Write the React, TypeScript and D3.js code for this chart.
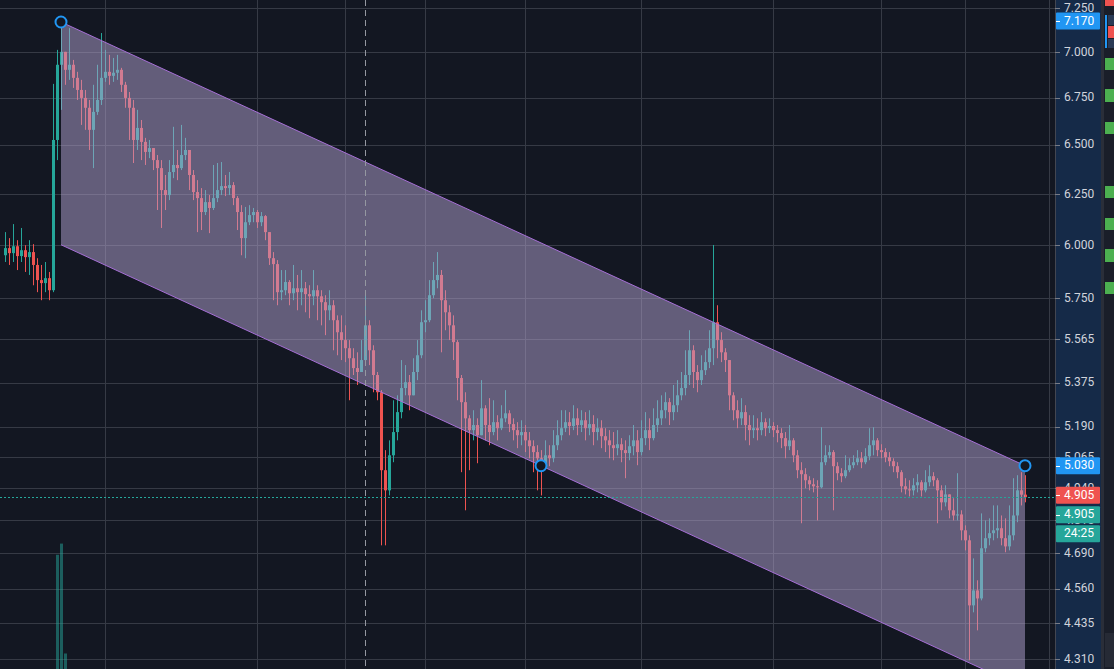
import React from "react";
import * as d3 from "d3";

const W = 1114;
const H = 669;
const PLOT_R = 1055;
const AXIS_R = 1101;

const firstOpen = 5.951;
const closes = [
  5.985, 5.961, 5.994, 5.947, 5.975, 5.942, 5.966, 5.905, 5.834, 5.82,
  5.843, 5.787, 6.525, 6.929, 7.001, 6.901, 6.929, 6.857, 6.791, 6.748,
  6.695, 6.578, 6.673, 6.737, 6.857, 6.89, 6.868, 6.885, 6.901, 6.819,
  6.748, 6.695, 6.525, 6.588, 6.515, 6.463, 6.483, 6.421, 6.38, 6.269,
  6.244, 6.36, 6.396, 6.38, 6.447, 6.473, 6.345, 6.259, 6.229, 6.16,
  6.209, 6.18, 6.229, 6.269, 6.289, 6.279, 6.294, 6.229, 6.16, 6.033,
  6.11, 6.145, 6.16, 6.11, 6.14, 6.062, 5.937, 5.909, 5.778, 5.787,
  5.825, 5.773, 5.796, 5.778, 5.796, 5.769, 5.759, 5.787, 5.759, 5.732,
  5.695, 5.718, 5.65, 5.596, 5.561, 5.525, 5.481, 5.438, 5.421, 5.473,
  5.627, 5.516, 5.408, 5.334, 5.012, 4.932, 5.072, 5.167, 5.25, 5.352,
  5.377, 5.321, 5.421, 5.494, 5.641, 5.65, 5.764, 5.834, 5.858, 5.741,
  5.686, 5.627, 5.552, 5.395, 5.292, 5.224, 5.175, 5.196, 5.154, 5.266,
  5.196, 5.167, 5.208, 5.183, 5.224, 5.245, 5.2, 5.175, 5.154, 5.167,
  5.133, 5.109, 5.085, 5.06, 5.036, 5.072, 5.06, 5.113, 5.154, 5.183,
  5.208, 5.192, 5.224, 5.196, 5.216, 5.183, 5.2, 5.167, 5.183, 5.15,
  5.133, 5.113, 5.101, 5.117, 5.093, 5.081, 5.109, 5.133, 5.085, 5.142,
  5.175, 5.142, 5.196, 5.224, 5.258, 5.292, 5.25, 5.279, 5.321, 5.352,
  5.408, 5.516, 5.421, 5.386, 5.429, 5.464, 5.525, 5.641, 5.561, 5.507,
  5.473, 5.321, 5.258, 5.224, 5.25, 5.196, 5.175, 5.183, 5.175, 5.208,
  5.183, 5.192, 5.175, 5.163, 5.142, 5.109, 5.133, 5.072, 5.012, 4.996,
  4.972, 4.956, 4.948, 4.944, 5.044, 5.072, 5.085, 5.028, 5.0, 4.988,
  5.012, 5.032, 5.044, 5.06, 5.044, 5.068, 5.113, 5.133, 5.093, 5.085,
  5.064, 5.048, 5.028, 5.004, 4.948, 4.936, 4.932, 4.952, 4.964, 4.932,
  4.964, 4.988, 4.972, 4.932, 4.885, 4.916, 4.854, 4.834, 4.838, 4.777,
  4.739, 4.499, 4.553, 4.524, 4.709, 4.747, 4.766, 4.777, 4.785, 4.747,
  4.716, 4.758, 4.834, 4.932, 4.915, 4.905,
];
const highs = [
  6.062, 6.033, 6.101, 6.023, 6.082, 5.999, 6.023, 6.004, 5.937, 5.905,
  5.919, 5.872, 6.824, 7.012, 7.17, 6.984, 7.135, 6.956, 6.89, 6.846,
  6.791, 6.737, 6.819, 6.929, 7.107, 7.012, 6.984, 6.967, 6.984, 6.912,
  6.835, 6.78, 6.737, 6.684, 6.63, 6.536, 6.525, 6.473, 6.447, 6.421,
  6.345, 6.421, 6.594, 6.473, 6.604, 6.536, 6.473, 6.37, 6.319, 6.279,
  6.269, 6.244, 6.396, 6.406, 6.411, 6.345, 6.36, 6.309, 6.239, 6.194,
  6.185, 6.194, 6.18, 6.17, 6.16, 6.145, 6.047, 5.966, 5.928, 5.881,
  5.881, 5.834, 5.905, 5.858, 5.881, 5.825, 5.81, 5.881, 5.81, 5.787,
  5.764, 5.787, 5.741, 5.672, 5.672, 5.627, 5.561, 5.525, 5.507, 5.561,
  5.787, 5.65, 5.538, 5.421, 5.343, 5.093, 5.133, 5.3, 5.321, 5.473,
  5.451, 5.408, 5.481, 5.561, 5.695, 5.741, 5.834, 5.919, 5.966, 5.881,
  5.787, 5.718, 5.672, 5.561, 5.408, 5.334, 5.237, 5.258, 5.224, 5.386,
  5.279, 5.309, 5.3, 5.237, 5.279, 5.343, 5.258, 5.224, 5.208, 5.216,
  5.196, 5.167, 5.133, 5.113, 5.093, 5.133, 5.113, 5.175, 5.216, 5.258,
  5.258, 5.25, 5.279, 5.266, 5.258, 5.25, 5.258, 5.237, 5.224, 5.216,
  5.183, 5.175, 5.167, 5.175, 5.142, 5.133, 5.154, 5.196, 5.175, 5.216,
  5.25, 5.224, 5.266, 5.3, 5.321, 5.334, 5.309, 5.365, 5.386, 5.421,
  5.516, 5.605, 5.538, 5.451, 5.494, 5.516, 5.605, 6.0, 5.718, 5.596,
  5.525, 5.473, 5.334, 5.3, 5.309, 5.279, 5.237, 5.237, 5.224, 5.25,
  5.224, 5.224, 5.208, 5.196, 5.183, 5.167, 5.196, 5.142, 5.093, 5.044,
  5.02, 4.988, 4.98, 4.972, 5.187, 5.113, 5.113, 5.093, 5.044, 5.02,
  5.072, 5.06, 5.072, 5.093, 5.085, 5.101, 5.183, 5.187, 5.142, 5.117,
  5.101, 5.085, 5.06, 5.044, 5.012, 4.98, 4.972, 4.98, 4.996, 4.972,
  5.012, 5.032, 5.004, 4.98, 4.952, 4.952, 4.912, 4.901, 5.0, 4.854,
  4.796, 4.758, 4.671, 4.59, 4.842, 4.815, 4.823, 4.873, 4.873, 4.834,
  4.823, 4.873, 4.98, 4.992, 5.004, 4.992,
];
const lows = [
  5.919, 5.905, 5.919, 5.881, 5.919, 5.872, 5.858, 5.81, 5.778, 5.741,
  5.778, 5.741, 5.778, 6.421, 6.684, 6.819, 6.846, 6.802, 6.737, 6.604,
  6.578, 6.473, 6.38, 6.657, 6.71, 6.835, 6.819, 6.835, 6.846, 6.78,
  6.695, 6.525, 6.406, 6.473, 6.421, 6.396, 6.431, 6.37, 6.17, 6.082,
  6.17, 6.219, 6.329, 6.319, 6.37, 6.421, 6.269, 6.219, 6.062, 6.072,
  6.145, 6.057, 6.17, 6.209, 6.244, 6.239, 6.244, 6.194, 6.072, 5.951,
  5.937, 6.096, 6.11, 6.082, 6.091, 6.023, 5.905, 5.741, 5.718, 5.741,
  5.764, 5.718, 5.741, 5.695, 5.718, 5.686, 5.659, 5.718, 5.65, 5.627,
  5.583, 5.65, 5.516, 5.494, 5.473, 5.464, 5.3, 5.408, 5.365, 5.421,
  5.451, 5.451, 5.334, 5.3, 4.72, 4.72, 4.912, 5.044, 5.133, 5.224,
  5.321, 5.258, 5.334, 5.386, 5.481, 5.596, 5.641, 5.75, 5.796, 5.507,
  5.605, 5.561, 5.473, 5.3, 5.004, 4.854, 5.012, 5.133, 5.04, 5.175,
  5.133, 5.113, 5.154, 5.133, 5.175, 5.208, 5.167, 5.133, 5.101, 5.113,
  5.085, 5.06, 5.004, 4.932, 4.912, 5.02, 5.028, 5.044, 5.093, 5.133,
  5.167, 5.154, 5.175, 5.154, 5.167, 5.133, 5.154, 5.113, 5.133, 5.101,
  5.085, 5.06, 5.052, 5.072, 5.044, 4.98, 5.052, 5.072, 5.032, 5.072,
  5.113, 5.093, 5.133, 5.167, 5.196, 5.224, 5.196, 5.216, 5.25, 5.3,
  5.321, 5.365, 5.352, 5.334, 5.365, 5.408, 5.438, 5.451, 5.481, 5.464,
  5.421, 5.258, 5.216, 5.183, 5.196, 5.133, 5.113, 5.142, 5.133, 5.154,
  5.15, 5.163, 5.146, 5.125, 5.101, 5.06, 5.093, 5.044, 4.98, 4.804,
  4.94, 4.932, 4.924, 4.815, 4.94, 5.032, 5.06, 4.854, 4.972, 4.964,
  4.98, 5.004, 5.02, 5.032, 5.02, 5.036, 5.052, 5.072, 5.068, 5.06,
  5.044, 5.028, 5.004, 4.98, 4.924, 4.916, 4.908, 4.912, 4.924, 4.908,
  4.924, 4.948, 4.948, 4.804, 4.854, 4.869, 4.823, 4.815, 4.815, 4.739,
  4.701, 4.306, 4.474, 4.41, 4.517, 4.694, 4.72, 4.739, 4.747, 4.72,
  4.694, 4.701, 4.739, 4.808, 4.873, 4.885,
];
const volumeIndex = [13, 14, 15];
const volumeValues = [920000, 1010000, 125000];
const priceTicks = [7.25, 7.0, 6.75, 6.5, 6.25, 6.0, 5.75, 5.565, 5.375, 5.19, 5.065, 4.94, 4.815, 4.69, 4.56, 4.435, 4.31];
const timeGridIndex = [25, 63, 85, 105, 130, 159, 192, 219, 240, 261];
const crosshairIndex = 90;
const channelStart = { i: 14, p: 7.17 };
const channelEnd = { i: 255, p: 5.03 };
const channelWidthPoint = { i: 134, p: 5.03 };
const lastPrice = 4.905;
const countdown = "24:25";

const UP = "#26a69a";
const DOWN = "#ef5350";
const BG = "#131722";
const GRID = "#363a45";
const FONT = "Roboto, 'Liberation Sans', sans-serif";

// decorative side-panel widgets (right edge UI)
const sideBlocks = [
  { y: 0, h: 6, x: 1105, w: 9, c: "#ef5350" },
  { y: 15, h: 10, x: 1108, w: 6, c: "#2a3a55" },
  { y: 26, h: 12, x: 1108, w: 6, c: "#ef5350" },
  { y: 39, h: 9, x: 1108, w: 6, c: "#2a3a55" },
  { y: 15, h: 33, x: 1105, w: 2, c: "#2196f3" },
  { y: 58, h: 12, x: 1105, w: 9, c: "#4caf50" },
  { y: 89, h: 13, x: 1105, w: 9, c: "#4caf50" },
  { y: 122, h: 12, x: 1105, w: 9, c: "#4caf50" },
  { y: 186, h: 12, x: 1105, w: 9, c: "#4caf50" },
  { y: 218, h: 12, x: 1105, w: 9, c: "#4caf50" },
  { y: 249, h: 13, x: 1105, w: 9, c: "#4caf50" },
  { y: 282, h: 12, x: 1105, w: 9, c: "#4caf50" },
];

export default function App() {
  const n = closes.length;
  const x = d3.scaleLinear().domain([0, n - 1]).range([5, 1025]);
  const y = d3.scaleLog().domain([4.276, 7.297]).range([H, 0]);
  const vy = d3.scaleLinear().domain([0, 1200000]).range([H, 520]);

  const candles = closes.map((c, i) => {
    const o = i === 0 ? firstOpen : closes[i - 1];
    return { i, o, c, h: Math.max(highs[i], o, c), l: Math.min(lows[i], o, c) };
  });

  const x1 = x(channelStart.i), y1 = y(channelStart.p);
  const x2 = x(channelEnd.i), y2 = y(channelEnd.p);
  const slope = (y2 - y1) / (x2 - x1);
  const off = y(channelWidthPoint.p) - (y1 + slope * (x(channelWidthPoint.i) - x1));
  const poly = [[x1, y1], [x2, y2], [x2, y2 + off], [x1, y1 + off]];
  const polyPath = d3.line()(poly as [number, number][]) + "Z";

  const lastY = y(lastPrice);
  const bw = 3;

  const label = (cy: number, text: string, fill: string, key: string) => (
    <g key={key}>
      <rect x={PLOT_R + 1} y={cy - 8.5} width={AXIS_R - PLOT_R - 2} height={17} fill={fill} rx={1} />
      <line x1={PLOT_R + 1} x2={PLOT_R + 5} y1={Math.round(cy) + 0.5} y2={Math.round(cy) + 0.5} stroke="#ffffff" />
      <text x={PLOT_R + 9} y={cy + 0.5} fill="#ffffff" fontSize={12} fontFamily={FONT} dominantBaseline="middle">{text}</text>
    </g>
  );

  return (
    <svg width={W} height={H} style={{ position: "absolute", left: 0, top: 0, display: "block" }}>
      <rect x={0} y={0} width={W} height={H} fill={BG} />
      <defs>
        <clipPath id="plot"><rect x={0} y={0} width={PLOT_R} height={H} /></clipPath>
      </defs>
      <g clipPath="url(#plot)">
        {priceTicks.map((t) => (
          <line key={"h" + t} x1={0} x2={PLOT_R} y1={Math.round(y(t)) + 0.5} y2={Math.round(y(t)) + 0.5} stroke={GRID} />
        ))}
        {timeGridIndex.map((t) => (
          <line key={"v" + t} x1={Math.round(x(t)) + 0.5} x2={Math.round(x(t)) + 0.5} y1={0} y2={H} stroke={GRID} />
        ))}
        {volumeIndex.map((vi, k) => (
          <rect key={"vol" + vi} x={Math.round(x(vi)) - 1} y={vy(volumeValues[k])} width={bw} height={H - vy(volumeValues[k])} fill="rgba(38,166,154,0.5)" />
        ))}
        {candles.map((d) => {
          const col = d.c >= d.o ? UP : DOWN;
          const cx = x(d.i);
          const top = y(Math.max(d.o, d.c));
          const bot = y(Math.min(d.o, d.c));
          return (
            <g key={"c" + d.i}>
              <line x1={Math.round(cx) + 0.5} x2={Math.round(cx) + 0.5} y1={y(d.h)} y2={y(d.l)} stroke={col} />
              <rect x={Math.round(cx) - 1} y={top} width={bw} height={Math.max(1, bot - top)} fill={col} />
            </g>
          );
        })}
        <path d={polyPath} fill="rgba(180,163,210,0.5)" />
        <line x1={x1} y1={y1} x2={x2} y2={y2} stroke="#a66fd6" strokeWidth={1} />
        <line x1={x1} y1={y1 + off} x2={x2} y2={y2 + off} stroke="#a66fd6" strokeWidth={1} />
        <line x1={0} x2={PLOT_R} y1={Math.round(lastY) + 0.5} y2={Math.round(lastY) + 0.5} stroke={UP} strokeDasharray="2 2" />
        <line x1={Math.round(x(crosshairIndex)) + 0.5} x2={Math.round(x(crosshairIndex)) + 0.5} y1={0} y2={H} stroke="#9598a1" strokeDasharray="6 4" />
        {[channelStart, channelWidthPoint, channelEnd].map((a, k) => (
          <circle key={"a" + k} cx={x(a.i)} cy={y(a.p)} r={5.5} fill={BG} stroke="#2196f3" strokeWidth={2} />
        ))}
      </g>
      <rect x={PLOT_R} y={0} width={AXIS_R - PLOT_R} height={H} fill="#152a48" />
      <line x1={PLOT_R + 0.5} x2={PLOT_R + 0.5} y1={0} y2={H} stroke="#434651" />
      {priceTicks.map((t) => (
        <g key={"t" + t}>
          <line x1={PLOT_R} x2={PLOT_R + 5} y1={Math.round(y(t)) + 0.5} y2={Math.round(y(t)) + 0.5} stroke="#787b86" />
          <text x={PLOT_R + 9} y={y(t) + 0.5} fill="#d1d4dc" fontSize={12} fontFamily={FONT} dominantBaseline="middle">{t.toFixed(3)}</text>
        </g>
      ))}
      {label(y(channelStart.p) - 1, channelStart.p.toFixed(3), "#2196f3", "l1")}
      {label(y(channelEnd.p), channelEnd.p.toFixed(3), "#2196f3", "l2")}
      {label(lastY - 2, lastPrice.toFixed(3), DOWN, "l3")}
      {label(lastY + 17.5, lastPrice.toFixed(3), UP, "l4")}
      <g>
        <rect x={PLOT_R + 1} y={lastY + 28} width={AXIS_R - PLOT_R - 2} height={17} fill={UP} rx={1} />
        <text x={PLOT_R + 9} y={lastY + 37} fill="#ffffff" fontSize={12} fontFamily={FONT} dominantBaseline="middle">{countdown}</text>
      </g>
      <rect x={AXIS_R} y={0} width={3} height={H} fill="#2a2e39" />
      <rect x={AXIS_R + 3} y={0} width={W - AXIS_R - 3} height={H} fill="#1a1e29" />
      {sideBlocks.map((b, k) => (
        <rect key={"sb" + k} x={b.x} y={b.y} width={b.w} height={b.h} fill={b.c} />
      ))}
      <rect x={1105} y={633} width={9} height={34} fill="#262a35" />
    </svg>
  );
}
